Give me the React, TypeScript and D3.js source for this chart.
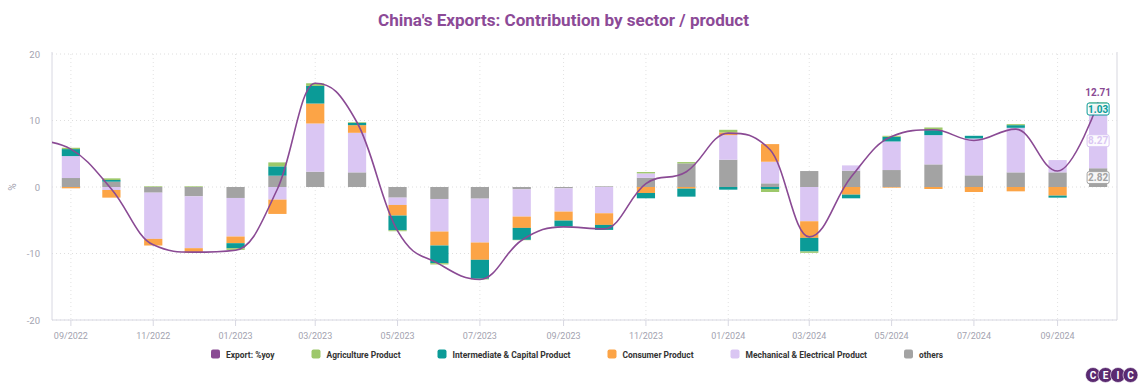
import React from 'react';
import * as d3 from 'd3';

// monthly data, export line starts one month before the bars
const months = [
  '2022-08', '2022-09', '2022-10', '2022-11', '2022-12', '2023-01', '2023-02', '2023-03', '2023-04',
  '2023-05', '2023-06', '2023-07', '2023-08', '2023-09', '2023-10', '2023-11', '2023-12', '2024-01',
  '2024-02', '2024-03', '2024-04', '2024-05', '2024-06', '2024-07', '2024-08', '2024-09', '2024-10'
];
const exportYoy = [
  7.1, 5.7, -0.3, -8.7, -9.8, -9.5, -0.3, 15.6, 9.7,
  -6.6, -11.6, -13.9, -8.0, -6.0, -6.3, 0.5, 2.3, 8.1,
  5.6, -7.5, 1.5, 7.6, 8.6, 7.0, 8.7, 2.4, 12.71
];
const barMonths = months.slice(1);
const agriculture = [0.2, 0.25, 0.1, 0.1, -0.25, 0.6, 0.4, 0.1, -0.15, -0.2, -0.1, -0.05, 0, 0, 0.2, 0.2, 0.4, -0.45, -0.2, 0, 0.15, 0.4, 0, 0.15, 0, 0.47];
const intermediate = [1.05, 0.25, 0, 0, -0.75, 1.4, 2.65, 0.35, -2.2, -2.65, -2.85, -1.8, -0.9, -0.75, -0.8, -1.2, -0.4, -0.3, -2.05, -0.55, 0.7, 0.75, 0.4, 0.4, -0.3, 1.03];
const consumer = [-0.2, -1.15, -1.0, -0.7, -1.0, -2.15, 3.0, 1.15, -1.6, -2.1, -2.6, -1.7, -1.35, -1.75, -0.9, -0.25, 0.4, 2.65, -2.5, -1.15, -0.1, -0.3, -0.75, -0.65, -1.3, 0.12];
const mechanical = [3.3, -0.45, -6.95, -7.8, -5.8, -1.9, 7.25, 5.95, -1.1, -4.9, -6.6, -4.1, -3.5, -3.95, 0.65, 0, 3.7, 3.25, -5.15, 0.8, 4.3, 4.4, 5.55, 6.7, 1.85, 8.27];
const others = [1.35, 0.8, -0.85, -1.4, -1.65, 1.7, 2.3, 2.2, -1.6, -1.8, -1.75, -0.35, -0.2, 0.1, 1.4, 3.55, 4.1, 0.55, 2.4, 2.45, 2.55, 3.4, 1.75, 2.2, 2.2, 2.82];

const xTicks = ['2022-09', '2022-11', '2023-01', '2023-03', '2023-05', '2023-07', '2023-09', '2023-11', '2024-01', '2024-03', '2024-05', '2024-07', '2024-09'];
const yTicks = [-20, -10, 0, 10, 20];

const seriesMeta = [
  { key: 'agriculture', name: 'Agriculture Product', color: '#9dc86a', values: agriculture },
  { key: 'intermediate', name: 'Intermediate & Capital Product', color: '#0b9b97', values: intermediate },
  { key: 'consumer', name: 'Consumer Product', color: '#fca446', values: consumer },
  { key: 'mechanical', name: 'Mechanical & Electrical Product', color: '#dac6f3', values: mechanical },
  { key: 'others', name: 'others', color: '#a3a3a3', values: others },
];
const lineColor = '#8a4a94';

const legendItems = [
  { name: 'Export: %yoy', color: lineColor, w: 48.5 },
  { name: 'Agriculture Product', color: '#9dc86a', w: 74 },
  { name: 'Intermediate & Capital Product', color: '#0b9b97', w: 118 },
  { name: 'Consumer Product', color: '#fca446', w: 71 },
  { name: 'Mechanical & Electrical Product', color: '#dac6f3', w: 121.5 },
  { name: 'others', color: '#a3a3a3', w: 24 },
];

const W = 1140, H = 390;
const left = 52, right = 1117, top = 54, bottom = 320;
const parse = d3.timeParse('%Y-%m');
const font = 'Roboto, "Noto Sans", sans-serif';

// highcharts-style spline (control points clamped, no big overshoot)
function splinePath(pts: [number, number][]) {
  const sm = 1.5, den = sm + 1;
  const ctrl = pts.map((p, i) => {
    const prev = pts[i - 1], next = pts[i + 1];
    if (!prev || !next) return null;
    const [px, py] = p;
    let lx = (sm * px + prev[0]) / den, ly = (sm * py + prev[1]) / den;
    const rx = (sm * px + next[0]) / den;
    let ry = (sm * py + next[1]) / den;
    if (rx !== lx) {
      const corr = ((ry - ly) * (rx - px)) / (rx - lx) + py - ry;
      ly += corr; ry += corr;
    }
    if (ly > Math.max(prev[1], py)) { ly = Math.max(prev[1], py); ry = 2 * py - ly; }
    else if (ly < Math.min(prev[1], py)) { ly = Math.min(prev[1], py); ry = 2 * py - ly; }
    if (ry > Math.max(next[1], py)) { ry = Math.max(next[1], py); ly = 2 * py - ry; }
    else if (ry < Math.min(next[1], py)) { ry = Math.min(next[1], py); ly = 2 * py - ry; }
    return { lx, ly, rx, ry };
  });
  const path = d3.path();
  path.moveTo(pts[0][0], pts[0][1]);
  for (let i = 1; i < pts.length; i++) {
    const a = ctrl[i - 1], b = ctrl[i];
    const c1x = a ? a.rx : pts[i - 1][0], c1y = a ? a.ry : pts[i - 1][1];
    const c2x = b ? b.lx : pts[i][0], c2y = b ? b.ly : pts[i][1];
    path.bezierCurveTo(c1x, c1y, c2x, c2y, pts[i][0], pts[i][1]);
  }
  return path.toString();
}

export default function App() {
  const x = d3.scaleTime()
    .domain([new Date(2022, 7, 18), new Date(2024, 9, 15)])
    .range([left, right]);
  const y = d3.scaleLinear().domain([-20, 20]).range([bottom, top]);

  const colorOf: Record<string, string> = {};
  seriesMeta.forEach(s => { colorOf[s.key] = s.color; });

  const rows = barMonths.map((m, i) => {
    const r: any = { date: parse(m) };
    seriesMeta.forEach(s => { r[s.key] = s.values[i]; });
    return r;
  });
  // Highcharts order: last series sits next to zero
  const stackKeys = ['others', 'mechanical', 'consumer', 'intermediate', 'agriculture'];
  const stacked = d3.stack<any>().keys(stackKeys).offset(d3.stackOffsetDiverging)(rows);

  const bw = (x(parse('2022-10')!) - x(parse('2022-09')!)) * 0.45;

  const linePts = months.map((m, i) => [x(parse(m)!), y(exportYoy[i])] as [number, number]);

  const lastIdx = rows.length - 1;
  const lastX = x(rows[lastIdx].date);

  let lx = 211;
  const legendPos = legendItems.map(it => {
    const p = lx;
    lx += 9 + 6 + it.w + 37;
    return p;
  });

  return (
    <div style={{ position: 'absolute', left: 0, top: 0 }}>
      <svg width={W} height={H} style={{ display: 'block', background: '#fff' }}>
        <defs>
          <clipPath id="plot">
            <rect x={left} y={top - 20} width={right - left} height={bottom - top + 20} />
          </clipPath>
        </defs>

        <text x={563.5} y={26} textAnchor="middle" fontFamily={font} fontWeight={700} fontSize={17}
          fill="#8c4a97" textLength={371} lengthAdjust="spacingAndGlyphs">
          China's Exports: Contribution by sector / product
        </text>

        {/* grid */}
        {yTicks.map(t => (
          <line key={'gy' + t} x1={left} x2={right} y1={y(t)} y2={y(t)} stroke="#dedede" strokeDasharray="1,3" />
        ))}
        {xTicks.map(t => (
          <line key={'gx' + t} x1={x(parse(t)!)} x2={x(parse(t)!)} y1={top} y2={bottom} stroke="#e2e2e2" strokeDasharray="1,3" />
        ))}

        {/* axes */}
        <line x1={left} x2={left} y1={top - 2} y2={bottom} stroke="#d8d8e2" />
        <line x1={right} x2={right} y1={top - 2} y2={bottom} stroke="#e4e4ea" strokeWidth={1.5} />
        <line x1={left} x2={right} y1={bottom} y2={bottom} stroke="#d8d8e2" />
        {xTicks.map(t => (
          <g key={'xt' + t}>
            <line x1={x(parse(t)!)} x2={x(parse(t)!)} y1={bottom} y2={bottom + 6} stroke="#d8d8e2" />
            <text x={x(parse(t)!)} y={339} textAnchor="middle" fontFamily={font} fontSize={9} fill="#a3a3b0">
              {d3.timeFormat('%m/%Y')(parse(t)!)}
            </text>
          </g>
        ))}
        {yTicks.map(t => (
          <text key={'yt' + t} x={40} y={y(t) + 3.5} textAnchor="end" fontFamily={font} fontSize={9.5} fill="#a3a3b0">
            {t}
          </text>
        ))}
        <text transform={`translate(16,${y(0)}) rotate(-90)`} textAnchor="middle" fontFamily={font} fontSize={10} fill="#a3a3b0">%</text>

        {/* bars */}
        {stacked.map(layer => (
          <g key={layer.key} fill={colorOf[layer.key]}>
            {layer.map((d, i) => {
              const y0 = y(d[0]), y1 = y(d[1]);
              const h = Math.abs(y0 - y1);
              if (h < 0.01) return null;
              return <rect key={i} x={x(d.data.date) - bw / 2} y={Math.min(y0, y1)} width={bw} height={h} />;
            })}
          </g>
        ))}

        {/* export line */}
        <path d={splinePath(linePts)} fill="none" stroke={lineColor} strokeWidth={1.6} clipPath="url(#plot)" />

        {/* data labels on the last month */}
        {stacked.map(layer => {
          const d = layer[lastIdx];
          const v = d.data[layer.key];
          if (Math.abs(v) < 0.9) return null;
          const cy = y((d[0] + d[1]) / 2);
          const txt = v.toFixed(2);
          const c = colorOf[layer.key];
          return (
            <g key={'lbl' + layer.key}>
              <rect x={lastX - 11} y={cy - 6} width={22} height={12} rx={2} fill="#fff" fillOpacity={0.9} stroke={c} />
              <text x={lastX} y={cy + 3.5} textAnchor="middle" fontFamily={font} fontWeight={700} fontSize={10} fill={c}>{txt}</text>
            </g>
          );
        })}
        <text x={lastX} y={y(exportYoy[exportYoy.length - 1]) - 6} textAnchor="middle" fontFamily={font} fontWeight={700} fontSize={10} fill={lineColor}>
          {exportYoy[exportYoy.length - 1].toFixed(2)}
        </text>

        {/* legend */}
        {legendItems.map((it, i) => (
          <g key={'lg' + i} transform={`translate(${legendPos[i]},349.5)`}>
            <rect x={0} y={0} width={9} height={9} rx={2} fill={it.color} />
            <text x={15} y={8} fontFamily={font} fontWeight={700} fontSize={9} fill="#333"
              textLength={it.w} lengthAdjust="spacingAndGlyphs">{it.name}</text>
          </g>
        ))}

        {/* CEIC logo */}
        {['C', 'E', 'I', 'C'].map((ch, i) => (
          <g key={'logo' + i} transform={`translate(${1093 + i * 12.5},375)`}>
            <circle r={7.5} fill="#5a2a70" stroke="#fff" strokeWidth={0.6} />
            <text y={3.5} textAnchor="middle" fontFamily={font} fontWeight={700} fontSize={10} fill="#fff">{ch}</text>
          </g>
        ))}
      </svg>
    </div>
  );
}
